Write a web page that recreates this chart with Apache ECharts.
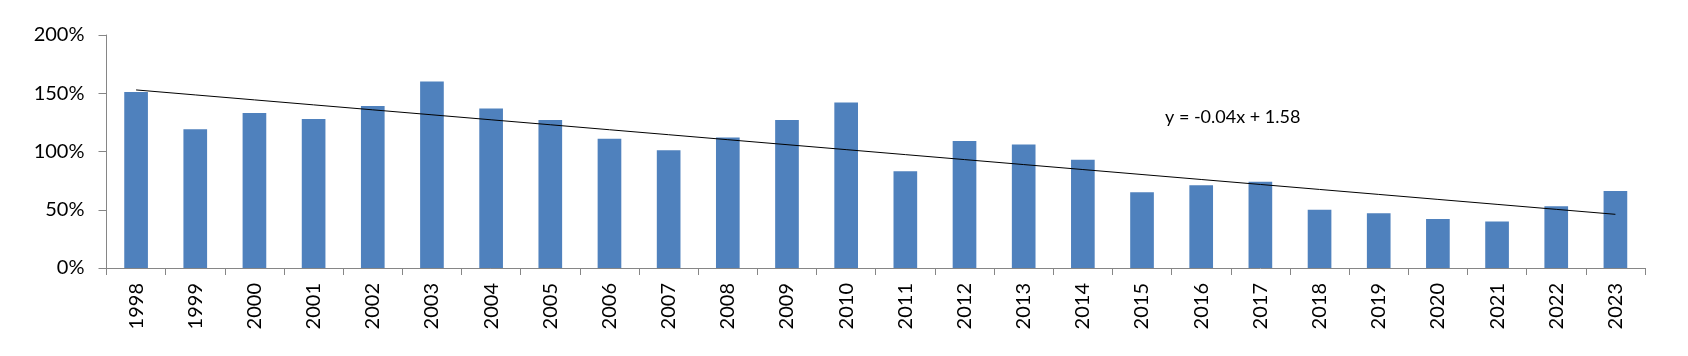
<!DOCTYPE html>
<html>
<head>
<meta charset="utf-8">
<script src="https://cdn.jsdelivr.net/npm/echarts@6/dist/echarts.min.js"></script>
<style>
html,body{margin:0;padding:0;background:#fff;}
#chart{width:1688px;height:356px;}
</style>
</head>
<body>
<div id="chart"></div>
<script>
const years = ['1998','1999','2000','2001','2002','2003','2004','2005','2006','2007','2008','2009','2010','2011','2012','2013','2014','2015','2016','2017','2018','2019','2020','2021','2022','2023'];
const values = [151,119,133,128,139,160,137,127,111,101,112,127,142,83,109,106,93,65,71,74,50,47,42,40,53,66];
const yTicks = [0,50,100,150,200];
const trendLabel = 'y = -0.04x + 1.58';

// linear least-squares trend line (Excel-style x = 1..n)
const n = values.length;
let sx=0, sy=0, sxy=0, sxx=0;
values.forEach((v,i)=>{const x=i+1; sx+=x; sy+=v; sxy+=x*v; sxx+=x*x;});
const slope = (n*sxy - sx*sy)/(n*sxx - sx*sx);
const intercept = (sy - slope*sx)/n;
const trend = values.map((v,i)=> intercept + slope*(i+1));

const chart = echarts.init(document.getElementById('chart'), null, {renderer:'canvas'});
const font = 'Lato';
chart.setOption({
  animation:false,
  grid:{left:106.5, right:43, top:35, bottom:88},
  xAxis:{
    type:'category', data:years, boundaryGap:true,
    axisLine:{lineStyle:{color:'#868686', width:1}},
    axisTick:{show:true, alignWithLabel:false, length:7, lineStyle:{color:'#868686'}},
    axisLabel:{rotate:90, margin:15, color:'#000', fontSize:20, fontFamily:font, interval:0}
  },
  yAxis:{
    type:'value', min:yTicks[0], max:yTicks[yTicks.length-1], interval:50,
    axisLine:{show:true, lineStyle:{color:'#868686', width:1}},
    axisTick:{show:true, length:8, lineStyle:{color:'#868686'}},
    splitLine:{show:false},
    axisLabel:{margin:22, color:'#000', fontSize:20, fontFamily:font, formatter:v=>v+'%'}
  },
  series:[
    {type:'bar', data:values, barWidth:'40%', itemStyle:{color:'#4F81BD'}, silent:true},
    {type:'line', data:trend, symbol:'none', lineStyle:{color:'#000', width:1}, silent:true, z:5}
  ],
  graphic:[{
    type:'text', left:1165, top:108,
    style:{text:trendLabel, font:'18px Lato', fill:'#000'}
  }]
});
</script>
</body>
</html>
